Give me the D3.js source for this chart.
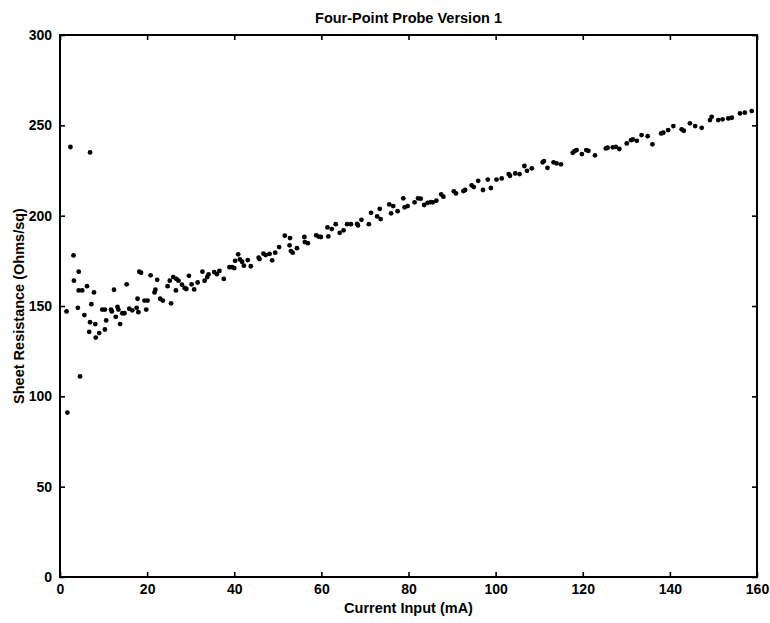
<!DOCTYPE html>
<html>
<head>
<meta charset="utf-8">
<script src="https://cdn.jsdelivr.net/npm/d3@7"></script>
<style>
  body { margin: 0; background: #fff; }
  svg text { font-family: "Liberation Sans", Arial, sans-serif; fill: #000; }
</style>
</head>
<body>
<svg id="chart"></svg>
<script>
const title = "Four-Point Probe Version 1";
const xLabel = "Current Input (mA)";
const yLabel = "Sheet Resistance (Ohms/sq)";
const xTicks = [0, 20, 40, 60, 80, 100, 120, 140, 160];
const yTicks = [0, 50, 100, 150, 200, 250, 300];

// current (mA)
const current = [
  1.5, 1.7, 2.4, 3.1, 3.2, 4.1, 4.3, 4.3, 4.6, 5.1, 5.6, 6.2, 6.7, 6.9, 6.9, 7.2, 7.8, 8.1, 8.2, 9.0,
  9.7, 10.3, 10.3, 10.6, 11.7, 11.9, 12.4, 12.8, 13.2, 13.4, 13.8, 14.3, 14.8, 15.3, 15.9, 16.6, 17.6, 17.8, 18.0, 18.2,
  18.6, 19.4, 19.8, 20.1, 20.8, 21.7, 21.9, 22.3, 23.0, 23.6, 24.7, 25.2, 25.5, 26.0, 26.6, 26.7, 27.2, 28.0, 28.6, 29.0,
  29.6, 30.2, 30.8, 31.6, 32.7, 33.2, 33.8, 34.1, 35.4, 36.0, 36.6, 37.6, 38.9, 39.5, 40.0, 40.2, 40.9, 41.3, 41.8, 42.2,
  43.1, 43.8, 45.6, 45.8, 46.7, 47.2, 48.1, 48.7, 49.4, 50.3, 51.6, 52.7, 52.8, 53.0, 53.4, 54.4, 56.1, 56.2, 56.9, 58.8,
  59.4, 59.9, 61.4, 61.6, 62.4, 63.3, 64.2, 65.1, 65.9, 66.8, 68.2, 68.4, 69.2, 70.9, 71.4, 72.8, 73.4, 73.6, 75.6, 76.0,
  76.5, 77.5, 78.8, 79.1, 79.8, 81.4, 82.2, 82.8, 83.6, 84.4, 85.1, 85.6, 86.4, 87.5, 88.0, 90.4, 90.9, 92.6, 93.0, 94.5,
  95.0, 96.0, 97.1, 98.2, 98.9, 100.2, 101.4, 103.0, 103.3, 104.5, 105.5, 106.6, 107.2, 108.3, 110.8, 111.1, 111.9, 113.3, 114.0, 115.0,
  117.7, 118.1, 118.6, 119.8, 120.8, 121.3, 122.8, 125.3, 125.7, 126.9, 127.6, 128.4, 130.1, 131.1, 131.5, 132.4, 133.5, 134.9, 136.0, 138.0,
  138.5, 139.6, 140.8, 142.7, 143.2, 144.6, 145.8, 147.3, 149.2, 149.6, 151.1, 152.1, 153.4, 154.2, 156.1, 157.2, 158.8
];

// sheet resistance (Ohms/sq)
const resistance = [
  147, 91, 238, 178, 164, 149, 169, 158.6, 111, 158.6, 145, 161, 135.7, 235, 141, 151, 157.5, 140, 132.5, 135,
  148, 148, 137, 142, 148, 147, 159, 144, 149.5, 148, 140, 146, 146, 162, 148.5, 147.6, 149, 154, 146.6, 169,
  168.4, 153, 148, 153, 167, 157.5, 159, 164.5, 154, 153, 161, 164, 151.5, 166, 158.6, 165, 164, 161.8, 160, 159.4,
  166.7, 162, 159.2, 163, 169, 164, 166, 167.5, 168.8, 167.6, 169.4, 165, 171.5, 171.5, 171, 175, 178.6, 175.8, 174.5, 172.3,
  175.4, 172, 176.7, 176, 179, 178.2, 178.9, 175.3, 179.5, 182.6, 188.9, 183.6, 187.6, 180.4, 179.5, 182, 188.2, 185.4, 184.8, 189.1,
  188.4, 188.2, 193.5, 188.5, 192.6, 195.3, 190.5, 191.9, 195.3, 195.3, 195.5, 194.6, 197.7, 195.3, 201.6, 199.6, 203.8, 198.1, 206.2, 201.3,
  205.3, 202.5, 209.6, 204.6, 205.3, 207.4, 209.6, 209.4, 205.9, 207.1, 207.5, 207.4, 208.3, 211.8, 210.5, 213.5, 212.3, 213.6, 214.2, 216.8,
  215.8, 219.3, 214.2, 220, 215.3, 220, 220.6, 223, 222.1, 223.4, 223, 227.5, 224.8, 226.2, 229.5, 230.2, 226.5, 229.5, 228.9, 228.4,
  234.8, 235.7, 236.3, 234.1, 236.3, 235.9, 233.4, 237.2, 237.6, 237.8, 238.1, 236.9, 240, 241.8, 242.2, 241.4, 244.6, 244, 239.5, 245.5,
  245.9, 247.4, 249.6, 247.8, 247, 251.1, 249.6, 248.6, 252.9, 254.7, 252.9, 253.3, 253.8, 254.2, 256.6, 257, 257.9
];

const data = current.map((c, i) => ({ x: c, y: resistance[i] }));

const w = 770;
const h = 623;
const margin = { top: 35, right: 13, bottom: 46, left: 60 };

const svg = d3.select("#chart").attr("width", w).attr("height", h);

const xScale = d3.scaleLinear().domain([0, 160]).range([margin.left, w - margin.right]);
const yScale = d3.scaleLinear().domain([0, 300]).range([h - margin.bottom, margin.top]);

const tickLen = 5;

// box
svg.append("rect")
  .attr("x", margin.left)
  .attr("y", margin.top)
  .attr("width", w - margin.left - margin.right)
  .attr("height", h - margin.top - margin.bottom)
  .attr("fill", "none")
  .attr("stroke", "#000")
  .attr("stroke-width", 2);

// bottom axis, ticks inward
const xAxis = d3.axisBottom(xScale).tickValues(xTicks).tickSizeInner(-tickLen).tickSizeOuter(0).tickPadding(7);
const gx = svg.append("g")
  .attr("transform", `translate(0, ${h - margin.bottom})`)
  .call(xAxis);

// top axis ticks
const gxTop = svg.append("g")
  .attr("transform", `translate(0, ${margin.top})`)
  .call(d3.axisTop(xScale).tickValues(xTicks).tickSizeInner(-tickLen).tickSizeOuter(0).tickFormat(""));

// left axis
const yAxis = d3.axisLeft(yScale).tickValues(yTicks).tickSizeInner(-tickLen).tickSizeOuter(0).tickPadding(8);
const gy = svg.append("g")
  .attr("transform", `translate(${margin.left}, 0)`)
  .call(yAxis);

// right axis ticks
const gyRight = svg.append("g")
  .attr("transform", `translate(${w - margin.right}, 0)`)
  .call(d3.axisRight(yScale).tickValues(yTicks).tickSizeInner(-tickLen).tickSizeOuter(0).tickFormat(""));

[gx, gxTop, gy, gyRight].forEach((g) => {
  g.select(".domain").remove();
  g.selectAll(".tick line").attr("stroke", "#000").attr("stroke-width", 1.6);
  g.selectAll(".tick text")
    .attr("font-size", 14)
    .attr("font-family", "'Liberation Sans', Arial, sans-serif")
    .attr("font-weight", "bold")
    .attr("fill", "#000");
});

// points
svg.selectAll(".dot")
  .data(data)
  .enter()
  .append("circle")
  .attr("class", "dot")
  .attr("cx", (d) => xScale(d.x))
  .attr("cy", (d) => yScale(d.y))
  .attr("r", 2.4)
  .attr("fill", "#000");

// title and labels
svg.append("text")
  .attr("x", (margin.left + w - margin.right) / 2)
  .attr("y", 23)
  .attr("text-anchor", "middle")
  .attr("font-size", 14.5)
  .attr("font-weight", "bold")
  .text(title);

svg.append("text")
  .attr("x", (margin.left + w - margin.right) / 2)
  .attr("y", 613)
  .attr("text-anchor", "middle")
  .attr("font-size", 14.5)
  .attr("font-weight", "bold")
  .text(xLabel);

svg.append("text")
  .attr("transform", `translate(24, ${(margin.top + h - margin.bottom) / 2}) rotate(-90)`)
  .attr("text-anchor", "middle")
  .attr("font-size", 14.5)
  .attr("font-weight", "bold")
  .text(yLabel);
</script>
</body>
</html>
